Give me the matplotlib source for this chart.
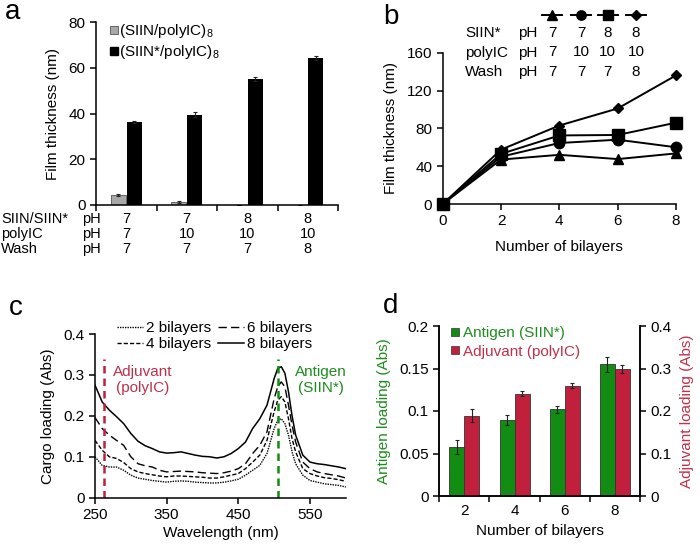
import numpy as np
import matplotlib
matplotlib.use('Agg')
import matplotlib.pyplot as plt
from matplotlib.lines import Line2D
from matplotlib.transforms import blended_transform_factory as blend

plt.rcParams['font.family'] = ['Liberation Sans', 'DejaVu Sans']
plt.rcParams['font.size'] = 11
plt.rcParams['mathtext.fontset'] = 'custom'
plt.rcParams['mathtext.rm'] = 'Liberation Sans'
plt.rcParams['axes.linewidth'] = 1.1

# ---- panel a data
a_siin = [4.5, 1.2, 0, 0]
a_siin_err = [0.5, 0.5, 0, 0]
a_star = [36.3, 39.5, 55.0, 64.2]
a_star_err = [0.5, 1.0, 0.8, 0.8]
a_rows = ['SIIN/SIIN*', 'polyIC', 'Wash']
a_ph = [['7', '7', '8', '8'], ['7', '10', '10', '10'], ['7', '7', '7', '8']]

# ---- panel b data
b_layers = [0, 2, 4, 6, 8]
b_tri = [0, 47, 52, 47.5, 53.5]
b_circ = [0, 50, 64.5, 68, 60]
b_sq = [0, 53, 72.5, 73, 86]
b_dia = [0, 57.5, 83, 101, 136]
b_rows = ['SIIN*', 'polyIC', 'Wash']
b_ph = [['7', '7', '8', '8'], ['7', '10', '10', '10'], ['7', '7', '7', '8']]

# ---- panel c data (absorbance spectra)
wl = [250, 260, 270, 280, 290, 300, 310, 320, 330, 340, 350, 360, 370, 380, 390,
      400, 410, 420, 430, 440, 450, 460, 470, 480, 490, 500, 505, 510, 515, 520,
      525, 530, 540, 550, 560, 570, 580, 590, 600]
abs8 = [0.275, 0.234, 0.214, 0.198, 0.181, 0.157, 0.138, 0.127, 0.120, 0.112, 0.109,
        0.110, 0.112, 0.108, 0.104, 0.101, 0.100, 0.097, 0.100, 0.108, 0.120, 0.136,
        0.169, 0.193, 0.226, 0.291, 0.316, 0.320, 0.304, 0.259, 0.200, 0.153, 0.104,
        0.087, 0.083, 0.081, 0.078, 0.075, 0.071]
abs6 = [0.196, 0.169, 0.153, 0.140, 0.128, 0.100, 0.083, 0.078, 0.075, 0.067, 0.063,
        0.064, 0.065, 0.064, 0.063, 0.061, 0.060, 0.059, 0.061, 0.065, 0.071, 0.083,
        0.108, 0.128, 0.161, 0.242, 0.271, 0.283, 0.271, 0.226, 0.177, 0.136, 0.087,
        0.071, 0.063, 0.059, 0.056, 0.053, 0.048]
abs4 = [0.140, 0.116, 0.100, 0.096, 0.086, 0.071, 0.063, 0.059, 0.056, 0.053, 0.051,
        0.053, 0.053, 0.052, 0.051, 0.050, 0.048, 0.048, 0.051, 0.055, 0.059, 0.071,
        0.087, 0.104, 0.140, 0.210, 0.238, 0.247, 0.234, 0.193, 0.144, 0.112, 0.071,
        0.059, 0.053, 0.049, 0.047, 0.044, 0.040]
abs2 = [0.100, 0.079, 0.075, 0.075, 0.067, 0.055, 0.048, 0.045, 0.042, 0.040, 0.038,
        0.040, 0.041, 0.040, 0.038, 0.037, 0.036, 0.036, 0.038, 0.041, 0.045, 0.055,
        0.067, 0.079, 0.108, 0.169, 0.189, 0.193, 0.181, 0.153, 0.112, 0.083, 0.055,
        0.042, 0.038, 0.034, 0.032, 0.030, 0.026]
adjuvant_wl = 263
antigen_wl = 506
marker_top = 0.338

# ---- panel d data
d_layers = ['2', '4', '6', '8']
d_antigen = [0.0576, 0.0898, 0.102, 0.155]
d_antigen_err = [0.008, 0.006, 0.004, 0.009]
d_adjuvant = [0.189, 0.241, 0.260, 0.299]
d_adjuvant_err = [0.016, 0.006, 0.005, 0.009]

GREEN = '#128c12'
RED = '#c0203c'
TXT_RED = '#c0304a'
TXT_GREEN = '#1e8c1e'

W, H = 700, 544
fig = plt.figure(figsize=(7, 5.44), dpi=100)


def rect(l, t, r, b):
    return [l / W, 1 - b / H, (r - l) / W, (b - t) / H]


def fy(y):
    return 1 - y / H


def clean(ax):
    ax.spines['top'].set_visible(False)
    ax.spines['right'].set_visible(False)
    ax.tick_params(direction='out', length=4, width=1.1)


ebar = dict(elinewidth=0.8, capthick=0.8, ecolor='#222222')

# ================= a
axa = fig.add_axes(rect(96, 22, 338, 205))
x = np.arange(4)
axa.bar(x - 0.13, a_siin, 0.25, color='#a8a8a8', edgecolor='#555555', linewidth=0.6,
        yerr=a_siin_err, capsize=1.5, error_kw=ebar)
axa.bar(x + 0.13, a_star, 0.25, color='black', yerr=a_star_err, capsize=1.5,
        error_kw=ebar)
axa.set_xlim(-0.5, 3.5)
axa.set_ylim(0, 80)
axa.set_yticks([0, 20, 40, 60, 80])
axa.set_xticks([-0.5, 0.5, 1.5, 2.5, 3.5])
axa.set_xticklabels([])
clean(axa)
axa.set_ylabel('Film thickness (nm)', labelpad=6)
h1 = Line2D([], [], ls='', marker='s', ms=6, mfc='#a8a8a8', mec='#555555', mew=0.6)
h2 = Line2D([], [], ls='', marker='s', ms=6, mfc='black', mec='black')
axa.legend([h1, h2], ['(SIIN/polyIC)$_8$', '(SIIN*/polyIC)$_8$'], loc='upper left',
           bbox_to_anchor=(110 / W, fy(22)), bbox_transform=fig.transFigure,
           frameon=False, handlelength=0.5, handletextpad=0.1, labelspacing=0.2,
           borderpad=0, borderaxespad=0)
tr = blend(axa.transData, fig.transFigure)
for r, (lab, vals) in enumerate(zip(a_rows, a_ph)):
    yy = fy(219 + 15 * r)
    fig.text(1 / W, yy, lab, va='center', fontsize=10.5)
    fig.text(91 / W, yy, 'pH', va='center', ha='center', fontsize=10.5)
    for i, v in enumerate(vals):
        axa.text(i, yy, v, transform=tr, ha='center', va='center', fontsize=10.5)

# ================= b
axb = fig.add_axes(rect(442.7, 52.7, 676, 204))
series = [(b_tri, '^', 7.5), (b_circ, 'o', 7.5), (b_sq, 's', 8), (b_dia, 'D', 5.5)]
for vals, m, ms in series:
    axb.plot(b_layers, vals, color='black', lw=1.4, marker=m, ms=ms, clip_on=False)
axb.set_xlim(0, 8)
axb.set_ylim(0, 160)
axb.set_xticks([0, 2, 4, 6, 8])
axb.set_yticks([0, 40, 80, 120, 160])
clean(axb)
axb.set_xlabel('Number of bilayers', labelpad=8)
axb.set_ylabel('Film thickness (nm)', labelpad=6)
cols = [552, 581, 607.5, 636]
for c, (vals, m, ms) in zip(cols, series):
    fig.add_artist(Line2D([(c - 10) / W, c / W, (c + 10) / W], [fy(14.5)] * 3,
                          transform=fig.transFigure, color='black', lw=1.4,
                          marker=m, ms=ms * 0.9, markevery=[1]))
for r, (lab, vals) in enumerate(zip(b_rows, b_ph)):
    yy = fy(33 + 19.5 * r)
    fig.text(465 / W, yy, lab, va='center')
    fig.text(527.5 / W, yy, 'pH', va='center', ha='center')
    for c, v in zip(cols, vals):
        fig.text(c / W, yy, v, va='center', ha='center')

# ================= c
axc = fig.add_axes(rect(95, 334, 345.8, 497.7))
axc.plot(wl, abs2, color='black', lw=1.0, ls=(0, (1, 0.8)), label='2 bilayers')
axc.plot(wl, abs4, color='black', lw=1.0, ls=(0, (3, 1.5)), label='4 bilayers')
axc.plot(wl, abs6, color='black', lw=1.0, ls=(0, (6, 3)), label='6 bilayers')
axc.plot(wl, abs8, color='black', lw=1.1, label='8 bilayers')
axc.vlines(adjuvant_wl, 0, marker_top, color=RED, lw=1.8, ls=(0, (3, 2)))
axc.vlines(antigen_wl, 0, marker_top, color=GREEN, lw=1.8, ls=(0, (3, 2)))
axc.set_xlim(250, 600)
axc.set_ylim(0, 0.4)
axc.set_xticks([250, 350, 450, 550])
axc.set_yticks([0, 0.1, 0.2, 0.3, 0.4])
axc.set_yticklabels(['0', '0.1', '0.2', '0.3', '0.4'])
clean(axc)
axc.set_xlabel('Wavelength (nm)', labelpad=3)
axc.set_ylabel('Cargo loading (Abs)', labelpad=6)
axc.legend(loc='upper left', bbox_to_anchor=(117 / W, fy(321)),
           bbox_transform=fig.transFigure, ncol=2, frameon=False,
           handlelength=1.7, handletextpad=0.2, labelspacing=0.15,
           columnspacing=0.45, borderpad=0, borderaxespad=0)
axc.text(143 / W, fy(380), 'Adjuvant\n(polyIC)', transform=fig.transFigure,
         ha='center', va='center', color=TXT_RED, linespacing=1.15)
axc.text(321 / W, fy(380), 'Antigen\n(SIIN*)', transform=fig.transFigure,
         ha='center', va='center', color=TXT_GREEN, linespacing=1.15)

# ================= d
axd = fig.add_axes(rect(439.3, 326, 640, 496))
axd2 = axd.twinx()
xd = np.arange(4)
axd.bar(xd - 0.15, d_antigen, 0.3, color=GREEN, edgecolor='#333333', linewidth=0.6,
        yerr=d_antigen_err, capsize=1.5, error_kw=ebar)
axd2.bar(xd + 0.15, d_adjuvant, 0.3, color=RED, edgecolor='#333333', linewidth=0.6,
         yerr=d_adjuvant_err, capsize=1.5, error_kw=ebar)
axd.set_xlim(-0.5, 3.5)
axd.set_ylim(0, 0.2)
axd2.set_ylim(0, 0.4)
axd.set_yticks([0, 0.05, 0.1, 0.15, 0.2])
axd.set_yticklabels(['0', '0.05', '0.1', '0.15', '0.2'])
axd2.set_yticks([0, 0.1, 0.2, 0.3, 0.4])
axd2.set_yticklabels(['0', '0.1', '0.2', '0.3', '0.4'])
axd.set_xticks(xd)
axd.set_xticklabels(d_layers)
axd.set_xticks([-0.5, 0.5, 1.5, 2.5, 3.5], minor=True)
axd.tick_params(axis='x', which='major', length=0, pad=6)
axd.tick_params(axis='x', which='minor', direction='out', length=4, width=1.1)
axd.tick_params(axis='y', direction='out', length=4, width=1.1)
axd2.tick_params(axis='y', direction='out', length=4, width=1.1)
for ax in (axd, axd2):
    ax.spines['top'].set_visible(False)
axd.set_xlabel('Number of bilayers', labelpad=4)
axd.set_ylabel('Antigen loading (Abs)', color=TXT_GREEN, labelpad=6)
axd2.set_ylabel('Adjuvant loading (Abs)', color=TXT_RED, labelpad=6)
hg = Line2D([], [], ls='', marker='s', ms=6, mfc=GREEN, mec='#333333', mew=0.5)
hr = Line2D([], [], ls='', marker='s', ms=6, mfc=RED, mec='#333333', mew=0.5)
leg = axd2.legend([hg, hr], ['Antigen (SIIN*)', 'Adjuvant (polyIC)'], loc='upper left',
                  bbox_to_anchor=(451 / W, fy(326)), bbox_transform=fig.transFigure,
                  frameon=False, handlelength=0.5, handletextpad=0.3,
                  labelspacing=0.3, borderpad=0, borderaxespad=0)
for t, c in zip(leg.get_texts(), [TXT_GREEN, TXT_RED]):
    t.set_color(c)

# panel letters
for lab, (px, py) in zip('abcd', [(13, 12), (391, 17), (16, 308), (391, 306)]):
    fig.text(px / W, fy(py), lab, fontsize=20, ha='center', va='center')

fig.savefig('out.png', dpi=100)
